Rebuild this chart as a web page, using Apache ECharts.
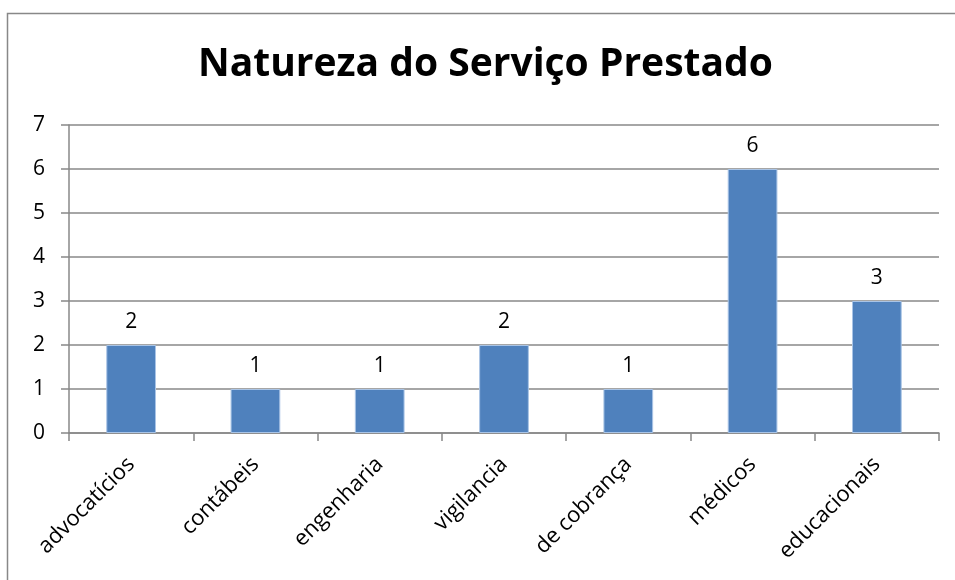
<!DOCTYPE html>
<html><head><meta charset="utf-8">
<script src="https://cdn.jsdelivr.net/npm/echarts@6/dist/echarts.min.js"></script>
<style>html,body{margin:0;padding:0;background:#fff}#c{width:955px;height:580px}</style>
</head><body><div id="c"></div>
<script>
const categories = ["advocatícios","contábeis","engenharia","vigilancia","de cobrança","médicos","educacionais"];
const values = [2,1,1,2,1,6,3];
const yTicks = [0,1,2,3,4,5,6,7];
const titleText = "Natureza do Serviço Prestado";

const chart = echarts.init(document.getElementById('c'));
const font = "'Open Sans', 'Liberation Sans', sans-serif";
chart.setOption({
  animation:false,
  graphic:[{type:'rect',shape:{x:7.5,y:13.5,width:960,height:600},style:{fill:'none',stroke:'#888',lineWidth:1.5},silent:true}],
  title:{text:titleText,left:193,top:40,textStyle:{fontFamily:font,fontWeight:'bold',fontSize:39,color:'#000'}},
  grid:{left:69,right:16,top:125,bottom:147},
  xAxis:{type:'category',data:categories,
    axisLine:{lineStyle:{color:'#888',width:1.5}},
    axisTick:{show:true,length:8,lineStyle:{color:'#888',width:1.5}},
    axisLabel:{rotate:45,fontFamily:font,fontSize:22,color:'#000',margin:28,interval:0}},
  yAxis:{type:'value',min:yTicks[0],max:yTicks[yTicks.length-1],interval:1,
    axisLine:{show:true,lineStyle:{color:'#888',width:1.5}},
    axisTick:{show:true,length:8,lineStyle:{color:'#888',width:1.5}},
    splitLine:{lineStyle:{color:'#888',width:1.5}},
    axisLabel:{fontFamily:font,fontSize:21,color:'#000',margin:24}},
  series:[{type:'bar',data:values,barWidth:'40%',
    itemStyle:{color:'#4F81BD',borderColor:'#A9C4E6',borderWidth:1},
    label:{show:true,position:'top',distance:12,fontFamily:font,fontSize:21,color:'#000'}}]
});
</script></body></html>
